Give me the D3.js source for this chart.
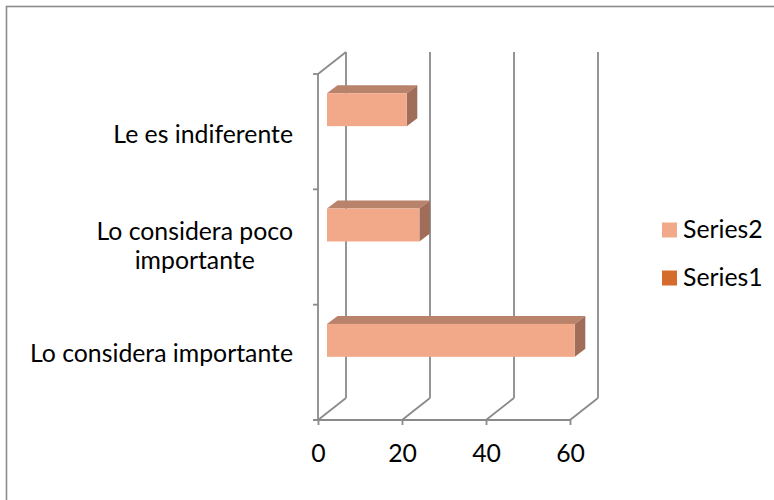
<!DOCTYPE html>
<html>
<head>
<meta charset="utf-8">
<script src="https://cdn.jsdelivr.net/npm/d3@7"></script>
<style>
  html, body { margin: 0; padding: 0; background: #fff; }
  svg { display: block; }
  text { font-family: Lato, "Open Sans", sans-serif; fill: #000; }
</style>
</head>
<body>
<svg id="chart" width="774" height="500"></svg>
<script>
// ---- data ----
const categories = ["Lo considera importante", "Lo considera poco importante", "Le es indiferente"];
const categoryLines = [["Lo considera importante"], ["Lo considera poco", "importante"], ["Le es indiferente"]];
const seriesNames = ["Series2", "Series1"];
const series2 = [59, 22, 19];
const series1 = [0, 0, 0];
const xTicks = [0, 20, 40, 60];

// ---- layout ----
const W = 774, H = 500;
const fontSize = 24.8;
const front = { left: 318, right: 570, top: 74, bottom: 420 };
const depth = { dx: 28, dy: -22 };
const barShift = { dx: 9, dy: -5.5 };
const barDepth = { dx: 10.5, dy: -8 };
const colors = {
  grid: "#8a8a8a",
  Series2: { front: "#F1A98A", top: "#B9826B", side: "#9F6D59" },
  Series1: { front: "#D56B2C", top: "#9E4F20", side: "#85421B" }
};

const svg = d3.select("#chart");

// chart border (extends past the canvas on right/bottom)
svg.append("rect")
  .attr("x", 6.5).attr("y", 6.5).attr("width", 820).attr("height", 540)
  .attr("fill", "#fff").attr("stroke", "#8c8c8c").attr("stroke-width", 1.6);

const x = d3.scaleLinear().domain([0, 60]).range([front.left, front.right]);
const y = d3.scaleBand().domain(categories).range([front.bottom, front.top]).padding(0);
const yInner = d3.scaleBand().domain(seriesNames).range([0, y.bandwidth()])
  .paddingInner(0).paddingOuter(0.75);

const grid = svg.append("g").attr("fill", "none").attr("stroke", colors.grid)
  .attr("stroke-width", 1.8);

// back-wall vertical gridlines
xTicks.forEach(t => {
  grid.append("line")
    .attr("x1", x(t) + depth.dx).attr("x2", x(t) + depth.dx)
    .attr("y1", front.top + depth.dy).attr("y2", front.bottom + depth.dy);
  // floor diagonals
  grid.append("line")
    .attr("x1", x(t)).attr("x2", x(t) + depth.dx)
    .attr("y1", front.bottom).attr("y2", front.bottom + depth.dy);
});
// left wall front edge + top diagonal
grid.append("line").attr("x1", x(0)).attr("x2", x(0))
  .attr("y1", front.top).attr("y2", front.bottom);
grid.append("line").attr("x1", x(0)).attr("x2", x(0) + depth.dx)
  .attr("y1", front.top).attr("y2", front.top + depth.dy);

// x axis (front floor edge) using d3 axis
const xAxis = svg.append("g").attr("transform", `translate(0,${front.bottom})`)
  .call(d3.axisBottom(x).tickValues(xTicks).tickSize(5).tickPadding(19).tickFormat(d3.format("d")));
xAxis.select(".domain").attr("stroke", colors.grid).attr("stroke-width", 1.8)
  .attr("d", `M${x(0) - 5},0H${x(60)}`);
xAxis.selectAll(".tick line").attr("stroke", colors.grid).attr("stroke-width", 1.8);
xAxis.selectAll(".tick text").attr("font-size", fontSize).attr("font-family", "Lato, sans-serif")
  .attr("fill", "#000");

// y axis ticks (category boundaries) on the front left edge
const yBounds = categories.map(c => y(c)).concat([front.bottom]);
yBounds.forEach(v => {
  grid.append("line").attr("x1", x(0) - 5).attr("x2", x(0)).attr("y1", v).attr("y2", v);
});

// category labels
const labelRight = 293;
const baselines = [362, 240, 143];
categories.forEach((c, i) => {
  const lines = categoryLines[i];
  const g = svg.append("g");
  const texts = lines.map((ln, j) => g.append("text")
    .attr("font-size", fontSize)
    .attr("y", baselines[i] + j * 29)
    .text(ln));
  const widths = texts.map(t => t.node().getComputedTextLength());
  const maxW = d3.max(widths);
  const cx = labelRight - maxW / 2;
  texts.forEach(t => t.attr("x", cx).attr("text-anchor", "middle"));
});

// bars
const seriesData = { Series2: series2, Series1: series1 };
const barsG = svg.append("g");
seriesNames.forEach(s => {
  categories.forEach((c, i) => {
    const v = seriesData[s][i];
    if (!v) return;
    const x0 = x(0) + barShift.dx, x1 = x(v) + barShift.dx;
    const y0 = y(c) + yInner(s) + barShift.dy, y1 = y0 + yInner.bandwidth();
    const dx = barDepth.dx, dy = barDepth.dy;
    barsG.append("polygon")
      .attr("points", [[x0, y0], [x0 + dx, y0 + dy], [x1 + dx, y0 + dy], [x1, y0]].join(" "))
      .attr("fill", colors[s].top);
    barsG.append("polygon")
      .attr("points", [[x1, y0], [x1 + dx, y0 + dy], [x1 + dx, y1 + dy], [x1, y1]].join(" "))
      .attr("fill", colors[s].side);
    barsG.append("rect")
      .attr("x", x0).attr("y", y0).attr("width", x1 - x0).attr("height", y1 - y0)
      .attr("fill", colors[s].front);
  });
});

// legend
const legend = svg.append("g");
const legendY = [230, 278];
seriesNames.forEach((s, i) => {
  legend.append("rect").attr("x", 662).attr("y", legendY[i] - 7.5)
    .attr("width", 15).attr("height", 15).attr("fill", colors[s].front);
  legend.append("text").attr("x", 683).attr("y", legendY[i] + 8)
    .attr("font-size", fontSize).text(s);
});
</script>
</body>
</html>
